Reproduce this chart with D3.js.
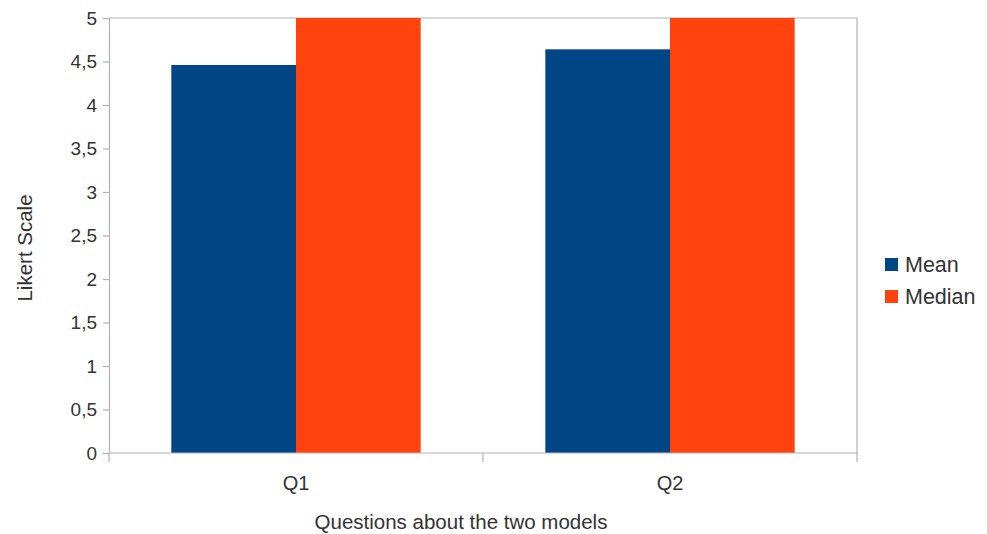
<!DOCTYPE html>
<html>
<head>
<meta charset="utf-8">
<script src="https://cdn.jsdelivr.net/npm/d3@7"></script>
<style>
  html, body { margin: 0; padding: 0; background: #fff; }
  svg { display: block; }
  text { font-family: "Liberation Sans", Arial, sans-serif; fill: #333; }
</style>
</head>
<body>
<svg id="chart" width="987" height="534"></svg>
<script>
// Survey answers on a 1–5 Likert scale
const questions = ["Q1", "Q2"];
const seriesNames = ["Mean", "Median"];
const meanValues = [4.46, 4.64];
const medianValues = [5, 5];
const yTicks = [0, 0.5, 1, 1.5, 2, 2.5, 3, 3.5, 4, 4.5, 5];
const colors = ["#004586", "#ff420e"];

const svg = d3.select("#chart");
const plot = { left: 109, right: 857, top: 18, bottom: 453 };

const x = d3.scaleBand().domain(questions).range([plot.left, plot.right]).paddingInner(0).paddingOuter(0);
const inner = d3.scaleBand().domain(seriesNames).range([0, x.bandwidth()]).paddingInner(0).paddingOuter(0.5);
const y = d3.scaleLinear().domain([0, 5]).range([plot.bottom, plot.top]);

const fmt = v => String(v).replace(".", ",");

// frame: top and right edges
svg.append("path")
  .attr("d", `M${plot.left},${plot.top}H${plot.right}V${plot.bottom}`)
  .attr("fill", "none").attr("stroke", "#b3b3b3").attr("stroke-width", 1.2);

// bars
const rows = questions.map((q, i) => ({ q, vals: [meanValues[i], medianValues[i]] }));
const groups = svg.append("g").selectAll("g").data(rows).join("g")
  .attr("transform", d => `translate(${x(d.q)},0)`);
groups.selectAll("rect")
  .data(d => d.vals.map((v, j) => ({ name: seriesNames[j], v, j })))
  .join("rect")
  .attr("x", d => inner(d.name))
  .attr("width", inner.bandwidth())
  .attr("y", d => y(d.v))
  .attr("height", d => y(0) - y(d.v))
  .attr("fill", d => colors[d.j]);

// y axis
const yAxis = svg.append("g").attr("transform", `translate(${plot.left},0)`)
  .call(d3.axisLeft(y).tickValues(yTicks).tickFormat(fmt).tickSize(6).tickPadding(6));
yAxis.select(".domain").attr("stroke", "#b3b3b3").attr("stroke-width", 1.2);
yAxis.selectAll(".tick line").attr("stroke", "#b3b3b3").attr("stroke-width", 1.2);
yAxis.selectAll(".tick text").attr("font-size", 19).attr("fill", "#333")
  .attr("font-family", "Liberation Sans, Arial, sans-serif");

// x axis with ticks at band boundaries
const xAxisG = svg.append("g").attr("transform", `translate(0,${plot.bottom})`);
xAxisG.append("line").attr("x1", plot.left).attr("x2", plot.right)
  .attr("stroke", "#b3b3b3").attr("stroke-width", 1.2);
const boundaries = questions.map(q => x(q)).concat([x(questions[questions.length - 1]) + x.bandwidth()]);
xAxisG.selectAll("line.b").data(boundaries).join("line").attr("class", "b")
  .attr("x1", d => d).attr("x2", d => d).attr("y1", 0).attr("y2", 9)
  .attr("stroke", "#b3b3b3").attr("stroke-width", 1.2);
xAxisG.selectAll("text").data(questions).join("text")
  .attr("x", d => x(d) + x.bandwidth() / 2).attr("y", 37)
  .attr("text-anchor", "middle").attr("font-size", 20).text(d => d);

// axis titles
svg.append("text").attr("x", 461).attr("y", 529)
  .attr("text-anchor", "middle").attr("font-size", 20.5).text("Questions about the two models");
svg.append("text").attr("transform", `translate(32,248) rotate(-90)`)
  .attr("text-anchor", "middle").attr("font-size", 20.5).text("Likert Scale");

// legend
const legend = svg.append("g").attr("transform", "translate(885,258)");
seriesNames.forEach((n, i) => {
  const g = legend.append("g").attr("transform", `translate(0,${i * 32})`);
  g.append("rect").attr("width", 13).attr("height", 13).attr("fill", colors[i]);
  g.append("text").attr("x", 20).attr("y", 14).attr("font-size", 21.5).text(n);
});
</script>
</body>
</html>
